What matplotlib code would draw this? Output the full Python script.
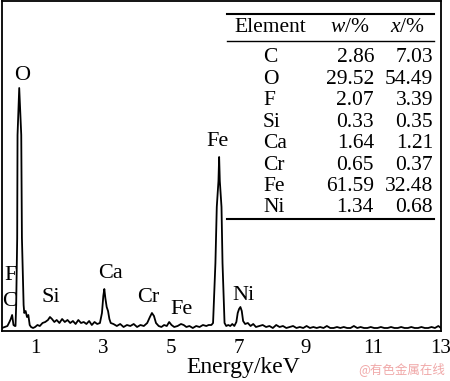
import matplotlib
matplotlib.use("Agg")
import matplotlib.pyplot as plt

plt.rcParams['font.family'] = ['Liberation Serif', 'DejaVu Serif']
plt.rcParams['mathtext.fontset'] = 'custom'
plt.rcParams['mathtext.rm'] = 'Liberation Serif'
plt.rcParams['mathtext.it'] = 'Liberation Serif:italic'

# spectrum (energy in keV, intensity in arbitrary counts)
energy = [0.00, 0.08, 0.16, 0.22, 0.26, 0.30, 0.34, 0.38, 0.40, 0.42,
          0.45, 0.46, 0.51, 0.57, 0.59, 0.64, 0.66, 0.70, 0.74, 0.78,
          0.82, 0.86, 0.92, 0.98, 1.05, 1.12, 1.20, 1.28, 1.36, 1.42,
          1.48, 1.55, 1.62, 1.70, 1.78, 1.86, 1.94, 2.02, 2.10, 2.18,
          2.26, 2.34, 2.42, 2.50, 2.58, 2.66, 2.74, 2.82, 2.90, 2.96,
          3.00, 3.03, 3.06, 3.10, 3.14, 3.18, 3.22, 3.30, 3.40, 3.50,
          3.60, 3.70, 3.80, 3.90, 4.00, 4.10, 4.20, 4.30, 4.38, 4.44,
          4.50, 4.56, 4.64, 4.72, 4.80, 4.88, 4.95, 5.02, 5.10, 5.20,
          5.30, 5.38, 5.46, 5.55, 5.65, 5.75, 5.85, 5.95, 6.05, 6.12,
          6.20, 6.25, 6.32, 6.36, 6.41, 6.43, 6.45, 6.50, 6.53, 6.59,
          6.64, 6.70, 6.76, 6.82, 6.88, 6.94, 6.98, 7.02, 7.06, 7.10,
          7.14, 7.20, 7.28, 7.36, 7.44, 7.52, 7.62, 7.72, 7.82, 7.92,
          8.02, 8.12, 8.22, 8.32, 8.42, 8.52, 8.62, 8.72, 8.82, 8.92,
          9.02, 9.12, 9.22, 9.32, 9.42, 9.52, 9.62, 9.72, 9.82, 9.92,
          10.02, 10.12, 10.22, 10.32, 10.42, 10.52, 10.62, 10.72, 10.82, 10.92,
          11.02, 11.12, 11.22, 11.32, 11.42, 11.52, 11.62, 11.72, 11.82, 11.92,
          12.02, 12.12, 12.22, 12.32, 12.42, 12.52, 12.62, 12.72, 12.82, 12.92,
          13.00]
counts = [3, 4, 5, 9, 12, 16, 6, 5, 5, 26,
          93, 196, 243, 196, 93, 26, 18, 20, 14, 16,
          6, 4, 3, 4, 6, 5, 8, 9, 11, 14,
          12, 9, 11, 8, 12, 9, 11, 8, 10, 7,
          11, 8, 9, 7, 10, 6, 9, 7, 8, 18,
          35, 42, 33, 24, 20, 12, 8, 7, 5, 7,
          4, 6, 5, 7, 4, 6, 5, 8, 14, 18,
          15, 8, 5, 4, 6, 5, 9, 6, 4, 5,
          7, 6, 4, 5, 3, 5, 4, 6, 5, 6,
          6, 8, 68, 124, 150, 174, 150, 124, 68, 8,
          5, 6, 5, 7, 5, 9, 18, 22, 24, 20,
          10, 7, 8, 5, 7, 4, 5, 6, 4, 5,
          3, 6, 4, 5, 3, 4, 5, 3, 4, 3,
          5, 3, 4, 3, 4, 3, 5, 3, 3, 4,
          3, 4, 3, 3, 5, 3, 4, 3, 3, 4,
          3, 3, 4, 3, 3, 4, 3, 3, 4, 3,
          3, 4, 3, 3, 4, 3, 3, 4, 3, 5,
          3]

peak_names = ['O', 'F', 'C', 'Si', 'Ca', 'Cr', 'Fe', 'Fe', 'Ni']
peak_x = [0.60, 0.25, 0.22, 1.46, 3.21, 4.33, 5.31, 6.37, 7.14]
peak_y = [256, 56, 29, 33, 58, 33, 22, 190, 36]

elements = ['C', 'O', 'F', 'Si', 'Ca', 'Cr', 'Fe', 'Ni']
w_pct = ['2.86', '29.52', '2.07', '0.33', '1.64', '0.65', '61.59', '1.34']
x_pct = ['7.03', '54.49', '3.39', '0.35', '1.21', '0.37', '32.48', '0.68']

fig = plt.figure(figsize=(4.5, 3.81), dpi=100)
ax = fig.add_axes([2 / 450, 1 - 331 / 381, 439 / 450, 330 / 381])
ax.plot(energy, counts, color='black', lw=1.3)
ax.set_xlim(0, 13)
ax.set_ylim(0, 330)
ax.set_xticks([1, 3, 5, 7, 9, 11, 13])
ax.set_yticks([])
ax.tick_params(axis='x', length=0, pad=6, labelsize=15)
for s in ax.spines.values():
    s.set_linewidth(1.3)
ax.text((243 - 2) / 439, -0.11, 'Energy/keV', transform=ax.transAxes,
        ha='center', va='center', fontsize=17)

for name, px, py in zip(peak_names, peak_x, peak_y):
    ax.text(px, py, name, ha='center', va='center', fontsize=16)

# composition table in the upper right corner
def fx(px):
    return px / 450

def fy(py):
    return 1 - py / 381

fig.add_artist(plt.Line2D([fx(227), fx(434)], [fy(14), fy(14)], color='black', lw=1.5))
fig.add_artist(plt.Line2D([fx(227), fx(434)], [fy(41), fy(41)], color='black', lw=1.0))
fig.add_artist(plt.Line2D([fx(227), fx(434)], [fy(219), fy(219)], color='black', lw=1.5))
fig.text(fx(270), fy(27), 'Element', ha='center', va='center', fontsize=15.5)
fig.text(fx(350), fy(27), r'$\it{w}$/%', ha='center', va='center', fontsize=15.5)
fig.text(fx(408), fy(27), r'$\it{x}$/%', ha='center', va='center', fontsize=15.5)
for i, (el, w, x) in enumerate(zip(elements, w_pct, x_pct)):
    yy = fy(58 + i * 21.4)
    fig.text(fx(263), yy, el, ha='left', va='center', fontsize=15.5)
    fig.text(fx(374), yy, w, ha='right', va='center', fontsize=15.5)
    fig.text(fx(433), yy, x, ha='right', va='center', fontsize=15.5)

fig.text(fx(445), fy(369), '@有色金属在线', ha='right', va='center', fontsize=9,
         color='#f0a8a8', family=['Noto Sans CJK SC', 'DejaVu Sans'])

fig.savefig('out.png', dpi=100)
